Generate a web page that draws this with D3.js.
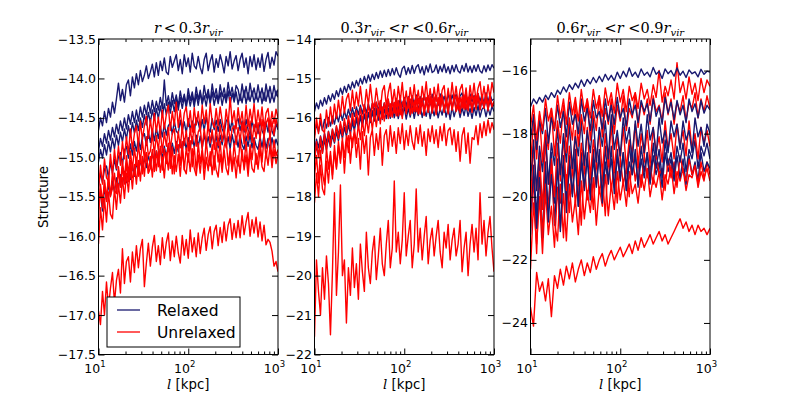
<!DOCTYPE html>
<html>
<head>
<meta charset="utf-8">
<script src="https://cdn.jsdelivr.net/npm/d3@7"></script>
<style>
  body { margin: 0; background: #fff; }
  text { font-family: "DejaVu Sans", sans-serif; fill: #000; }
  .math { font-family: "DejaVu Serif", "Liberation Serif", serif; }
</style>
</head>
<body>
<div id="chart"></div>
<script>
// separation l [kpc]: fine grid for the first two panels
const lFine = [10.00, 10.52, 11.08, 11.66, 12.27, 12.92, 13.59, 14.31, 15.06, 15.85,
  16.68, 17.56, 18.48, 19.45, 20.47, 21.54, 22.68, 23.87, 25.12, 26.44,
  27.83, 29.29, 30.83, 32.45, 34.15, 35.94, 37.83, 39.81, 41.90, 44.10,
  46.42, 48.85, 51.42, 54.12, 56.96, 59.95, 63.10, 66.41, 69.90, 73.56,
  77.43, 81.49, 85.77, 90.27, 95.01, 100.0, 105.2, 110.8, 116.6, 122.7,
  129.2, 135.9, 143.1, 150.6, 158.5, 166.8, 175.6, 184.8, 194.5, 204.7,
  215.4, 226.8, 238.7, 251.2, 264.4, 278.3, 292.9, 308.3, 324.5, 341.5,
  359.4, 378.3, 398.1, 419.0, 441.0, 464.2, 488.5, 514.2, 541.2, 569.6,
  599.5, 631.0, 664.1, 699.0, 735.6, 774.3, 814.9, 857.7, 902.7, 950.1, 1000];
// coarser grid for the third panel
const lKpc = [10.0, 10.8, 11.7, 12.6, 13.6, 14.7, 15.8, 17.1, 18.5, 20.0,
  21.5, 23.3, 25.1, 27.1, 29.3, 31.6, 34.1, 36.8, 39.8, 42.9,
  46.4, 50.1, 54.1, 58.4, 63.1, 68.1, 73.6, 79.4, 85.8, 92.6,
  100, 108, 117, 126, 136, 147, 158, 171, 185, 200,
  215, 233, 251, 271, 293, 316, 341, 368, 398, 429,
  464, 501, 541, 584, 631, 681, 736, 794, 858, 926, 1000];

// panel 1: r < 0.3 r_vir
const p1Relaxed = [
  [-14.66,-14.50,-14.60,-14.42,-14.56,-14.38,-14.49,-14.30,-14.44,-14.26,
   -14.06,-14.28,-14.14,-14.30,-14.08,-14.02,-14.22,-13.98,-14.12,-13.94,
   -14.08,-13.90,-14.04,-13.96,-13.84,-14.00,-13.92,-13.82,-13.98,-13.80,
   -13.96,-13.78,-13.90,-13.74,-13.92,-13.95,-13.72,-13.86,-13.78,-13.70,
   -13.90,-13.76,-13.94,-13.70,-13.85,-13.74,-13.92,-13.68,-13.84,-13.88,
   -13.72,-13.86,-13.94,-13.76,-13.68,-13.90,-13.78,-13.70,-13.92,-13.75,
   -13.86,-13.70,-13.80,-13.93,-13.72,-13.84,-13.66,-13.88,-13.78,-13.71,
   -13.90,-13.76,-13.68,-13.86,-13.74,-13.94,-13.72,-13.85,-13.70,-13.89,
   -13.74,-13.86,-13.69,-13.91,-13.76,-13.67,-13.87,-13.73,-13.83,-13.66,-13.72],
  [-14.92,-14.76,-14.86,-14.70,-14.82,-14.66,-14.78,-14.62,-14.74,-14.58,
   -14.70,-14.54,-14.66,-14.50,-14.64,-14.46,-14.58,-14.42,-14.56,-14.40,
   -14.54,-14.36,-14.49,-14.34,-14.46,-14.30,-14.44,-14.28,-14.42,-14.29,
   -14.40,-14.24,-14.38,-14.02,-14.34,-14.22,-14.36,-14.18,-14.32,-14.21,
   -14.35,-14.16,-14.30,-14.20,-14.34,-14.13,-14.28,-14.17,-14.32,-14.11,
   -14.27,-14.15,-14.31,-14.09,-14.25,-14.14,-14.30,-14.07,-14.24,-14.13,
   -14.29,-14.08,-14.23,-14.12,-14.27,-14.05,-14.22,-14.11,-14.26,-14.09,
   -14.14,-14.28,-14.07,-14.24,-14.10,-14.27,-14.06,-14.23,-14.12,-14.26,
   -14.08,-14.24,-14.12,-14.28,-14.07,-14.23,-14.10,-14.25,-14.09,-14.22,-14.14],
  [-15.06,-14.90,-15.01,-14.84,-14.97,-14.80,-14.93,-14.76,-14.89,-14.72,
   -14.85,-14.68,-14.80,-14.64,-14.77,-14.60,-14.73,-14.56,-14.69,-14.53,
   -14.66,-14.50,-14.62,-14.46,-14.59,-14.43,-14.56,-14.40,-14.53,-14.38,
   -14.51,-14.35,-14.48,-14.32,-14.46,-14.30,-14.44,-14.28,-14.42,-14.26,
   -14.40,-14.24,-14.38,-14.23,-14.37,-14.21,-14.35,-14.22,-14.36,-14.20,
   -14.34,-14.18,-14.33,-14.22,-14.35,-14.19,-14.32,-14.17,-14.34,-14.21,
   -14.32,-14.18,-14.34,-14.20,-14.31,-14.16,-14.33,-14.19,-14.30,-14.17,
   -14.33,-14.20,-14.31,-14.15,-14.32,-14.18,-14.29,-14.16,-14.31,-14.19,
   -14.30,-14.17,-14.32,-14.18,-14.29,-14.15,-14.31,-14.19,-14.30,-14.16,-14.24],
  [-15.37,-15.20,-15.32,-15.15,-15.11,-15.26,-15.06,-15.20,-15.02,-15.16,
   -14.99,-14.94,-15.09,-14.91,-14.86,-15.01,-14.83,-14.97,-14.80,-14.92,
   -14.76,-14.90,-14.74,-14.70,-14.85,-14.68,-14.81,-14.65,-14.79,-14.63,
   -14.76,-14.61,-14.74,-14.58,-14.72,-14.60,-14.56,-14.71,-14.54,-14.67,
   -14.70,-14.53,-14.66,-14.55,-14.69,-14.51,-14.65,-14.54,-14.68,-14.50,
   -14.56,-14.67,-14.52,-14.66,-14.49,-14.63,-14.68,-14.51,-14.65,-14.53,
   -14.67,-14.52,-14.64,-14.70,-14.54,-14.50,-14.66,-14.53,-14.69,-14.55,
   -14.51,-14.66,-14.54,-14.68,-14.52,-14.65,-14.71,-14.53,-14.67,-14.56,
   -14.70,-14.54,-14.66,-14.72,-14.55,-14.68,-14.53,-14.67,-14.73,-14.57,-14.65],
  [-15.59,-15.44,-15.68,-15.38,-15.54,-15.34,-15.49,-15.30,-15.44,-15.26,
   -15.39,-15.22,-15.35,-15.18,-15.32,-15.14,-15.28,-15.10,-15.24,-15.06,
   -15.19,-15.03,-15.16,-15.00,-15.13,-14.97,-15.10,-14.94,-15.07,-14.92,
   -15.04,-14.89,-15.01,-14.86,-14.99,-14.84,-14.97,-14.82,-14.95,-14.80,
   -14.93,-14.78,-14.91,-14.76,-14.90,-14.75,-14.88,-14.74,-14.87,-14.72,
   -14.86,-14.73,-14.88,-14.71,-14.85,-14.74,-14.87,-14.70,-14.84,-14.73,
   -14.88,-14.72,-14.84,-14.69,-14.86,-14.74,-14.89,-14.71,-14.85,-14.73,
   -14.87,-14.72,-14.84,-14.90,-14.73,-14.86,-14.71,-14.88,-14.75,-14.85,
   -14.90,-14.74,-14.87,-14.72,-14.89,-14.76,-14.91,-14.75,-14.88,-14.77,-14.85]
];
const p1Unrelaxed = [
  [-15.42,-15.10,-15.34,-15.02,-15.26,-15.30,-14.96,-15.22,-14.90,-15.14,
   -14.86,-15.10,-14.80,-15.02,-14.74,-14.96,-14.64,-14.90,-14.70,-14.60,
   -14.86,-14.54,-14.78,-14.60,-14.48,-14.76,-14.52,-14.72,-14.44,-14.68,
   -14.49,-14.70,-14.40,-14.64,-14.46,-14.34,-14.66,-14.42,-14.60,-14.30,
   -14.62,-14.40,-14.66,-14.44,-14.36,-14.61,-14.41,-14.68,-14.37,-14.59,
   -14.42,-14.64,-14.34,-14.57,-14.40,-14.66,-14.32,-14.55,-14.62,-14.38,
   -14.60,-14.36,-14.54,-14.67,-14.39,-14.59,-14.24,-14.56,-14.41,-14.64,
   -14.37,-14.58,-14.42,-14.66,-14.34,-14.61,-14.39,-14.56,-14.32,-14.62,
   -14.40,-14.59,-14.36,-14.64,-14.44,-14.38,-14.61,-14.42,-14.57,-14.39,-14.50],
  [-15.74,-15.40,-15.64,-15.32,-15.56,-15.24,-15.50,-15.19,-15.42,-15.46,
   -15.12,-15.36,-15.04,-15.28,-14.98,-15.22,-14.92,-15.16,-14.88,-15.10,
   -14.84,-15.06,-14.79,-15.02,-14.74,-14.98,-14.92,-14.70,-14.96,-14.72,
   -14.91,-14.66,-14.94,-14.68,-14.86,-14.62,-14.90,-14.70,-14.64,-14.92,
   -14.67,-14.88,-14.60,-14.85,-14.66,-14.92,-14.63,-14.83,-14.58,-14.86,
   -14.68,-14.62,-14.89,-14.64,-14.84,-14.56,-14.82,-14.65,-14.90,-14.61,
   -14.85,-14.59,-14.80,-14.63,-14.88,-14.58,-14.81,-14.64,-14.60,-14.84,
   -14.62,-14.80,-14.56,-14.83,-14.60,-14.78,-14.54,-14.81,-14.58,-14.76,
   -14.56,-14.77,-14.52,-14.74,-14.57,-14.50,-14.76,-14.54,-14.72,-14.51,-14.62],
  [-16.10,-15.64,-15.92,-15.52,-15.82,-15.44,-15.72,-15.78,-15.39,-15.66,
   -15.34,-15.58,-15.26,-15.52,-15.20,-15.44,-15.14,-15.40,-15.09,-15.34,
   -15.04,-15.30,-14.99,-15.24,-14.94,-15.20,-15.14,-14.90,-15.18,-14.92,
   -15.12,-14.86,-15.16,-14.89,-15.08,-14.82,-15.14,-14.87,-15.21,-14.91,
   -14.84,-15.10,-14.80,-15.16,-14.88,-15.06,-14.79,-15.12,-14.86,-15.18,
   -14.82,-15.08,-14.89,-15.14,-14.78,-15.04,-15.11,-14.84,-15.16,-14.81,
   -15.06,-14.80,-15.12,-14.86,-14.76,-15.10,-14.89,-15.15,-14.82,-15.04,
   -15.11,-14.78,-15.02,-15.08,-14.80,-15.14,-14.84,-15.03,-14.77,-15.09,
   -14.98,-14.79,-15.06,-14.74,-15.01,-14.82,-14.72,-15.03,-14.78,-14.98,-14.90],
  [-15.66,-15.34,-15.58,-15.29,-15.53,-15.24,-15.48,-15.40,-15.20,-15.44,
   -15.16,-15.38,-15.12,-15.34,-15.08,-15.31,-15.04,-15.26,-15.22,-15.00,
   -15.24,-14.98,-15.21,-15.02,-14.94,-15.20,-14.99,-15.25,-14.96,-15.17,
   -14.92,-15.19,-15.00,-15.26,-14.94,-15.16,-14.90,-15.21,-14.98,-15.18,
   -14.96,-15.24,-14.91,-15.15,-15.21,-14.95,-15.18,-14.89,-15.14,-15.23,
   -14.97,-15.20,-14.92,-15.28,-15.00,-15.17,-14.93,-15.22,-14.98,-15.16,
   -15.25,-14.96,-15.19,-14.91,-15.14,-15.22,-14.94,-15.18,-15.00,-15.26,
   -14.98,-15.20,-14.90,-15.16,-14.97,-15.24,-14.93,-15.14,-15.19,-14.95,
   -15.15,-14.89,-15.12,-15.18,-14.92,-15.10,-14.86,-15.13,-14.90,-15.08,-14.96],
  [-16.95,-17.12,-16.70,-17.00,-16.58,-16.90,-16.66,-16.46,-16.84,-16.56,
   -16.42,-16.72,-16.16,-16.60,-16.32,-16.26,-16.58,-16.20,-16.46,-16.12,
   -16.40,-16.16,-16.04,-16.64,-16.34,-16.09,-16.38,-16.14,-15.99,-16.32,
   -16.12,-16.36,-16.02,-16.28,-16.08,-15.96,-16.31,-16.06,-16.26,-16.00,
   -16.21,-16.34,-15.99,-16.24,-16.04,-16.28,-15.92,-16.20,-16.02,-16.26,
   -15.96,-16.22,-16.02,-15.90,-16.18,-15.98,-15.88,-16.16,-15.94,-15.86,
   -16.12,-15.89,-16.08,-15.82,-16.06,-15.86,-15.78,-16.04,-15.84,-16.02,
   -15.80,-16.02,-15.74,-15.98,-15.82,-15.70,-16.00,-15.79,-15.96,-15.76,
   -16.01,-15.82,-16.06,-15.86,-16.11,-16.04,-16.08,-16.19,-16.38,-16.32,-16.45]
];

// panel 2: 0.3 r_vir < r < 0.6 r_vir
const p2Relaxed = [
  [-15.84,-15.62,-15.77,-15.55,-15.70,-15.49,-15.65,-15.43,-15.58,-15.39,
   -15.53,-15.31,-15.46,-15.25,-15.40,-15.20,-15.35,-15.15,-15.29,-15.09,
   -15.24,-15.05,-15.19,-15.00,-15.14,-14.95,-15.11,-14.91,-15.07,-14.89,
   -15.03,-14.85,-15.00,-14.81,-14.97,-14.79,-14.95,-14.77,-14.93,-14.75,
   -14.91,-14.73,-14.89,-14.97,-14.75,-14.69,-14.90,-14.73,-14.88,-14.67,
   -14.87,-14.71,-14.65,-14.86,-14.70,-14.91,-14.68,-14.84,-14.63,-14.85,
   -14.81,-14.66,-14.87,-14.69,-14.83,-14.64,-14.85,-14.70,-14.88,-14.67,
   -14.83,-14.65,-14.81,-14.86,-14.67,-14.82,-14.62,-14.84,-14.69,-14.85,
   -14.67,-14.82,-14.65,-14.81,-14.86,-14.68,-14.83,-14.66,-14.80,-14.65,-14.74],
  [-16.44,-16.16,-16.36,-16.09,-16.32,-16.04,-16.26,-15.99,-16.21,-15.96,
   -16.16,-15.90,-16.10,-15.86,-16.06,-15.82,-16.02,-15.78,-15.98,-15.74,
   -15.96,-15.72,-15.92,-15.68,-15.90,-15.66,-15.88,-15.64,-15.86,-15.63,
   -15.84,-15.60,-15.82,-15.58,-15.86,-15.62,-15.80,-15.56,-15.85,-15.60,
   -15.78,-15.54,-15.82,-15.59,-15.88,-15.56,-15.76,-15.52,-15.80,-15.58,
   -15.84,-15.54,-15.78,-15.60,-15.52,-15.81,-15.57,-15.76,-15.50,-15.79,
   -15.58,-15.83,-15.54,-15.76,-15.51,-15.80,-15.60,-15.85,-15.55,-15.74,
   -15.52,-15.78,-15.57,-15.82,-15.54,-15.75,-15.49,-15.77,-15.58,-15.80,
   -15.54,-15.73,-15.50,-15.79,-15.56,-15.75,-15.52,-15.78,-15.57,-15.74,-15.66],
  [-16.84,-16.54,-16.76,-16.46,-16.70,-16.39,-16.64,-16.34,-16.56,-16.30,
   -16.50,-16.22,-16.44,-16.16,-16.38,-16.10,-16.32,-16.06,-16.28,-16.02,
   -16.24,-15.98,-16.20,-15.94,-16.16,-15.90,-16.14,-15.88,-16.12,-15.86,
   -16.08,-15.84,-16.06,-15.80,-16.04,-15.78,-16.02,-15.76,-16.01,-15.74,
   -16.00,-15.73,-16.02,-15.78,-15.96,-15.72,-16.03,-15.76,-15.98,-15.70,
   -16.01,-15.74,-15.94,-15.69,-15.99,-15.77,-15.96,-15.71,-16.02,-15.75,
   -15.95,-15.70,-16.00,-15.76,-15.93,-15.68,-15.98,-15.74,-16.04,-15.72,
   -15.97,-15.77,-15.71,-15.99,-15.74,-15.94,-15.68,-15.96,-15.76,-16.01,
   -15.73,-15.94,-15.69,-15.98,-15.78,-15.72,-15.97,-15.74,-15.93,-15.70,-15.84],
  [-17.02,-16.72,-16.94,-16.64,-16.88,-16.56,-16.80,-16.50,-16.74,-16.44,
   -16.64,-16.36,-16.58,-16.30,-16.52,-16.24,-16.46,-16.18,-16.40,-16.12,
   -16.32,-16.04,-16.26,-15.98,-16.20,-15.92,-16.14,-15.86,-16.08,-15.82,
   -16.02,-15.76,-15.96,-15.70,-15.91,-15.66,-15.86,-15.62,-15.82,-15.58,
   -15.78,-15.54,-15.74,-15.51,-15.72,-15.48,-15.70,-15.46,-15.68,-15.44,
   -15.66,-15.42,-15.64,-15.46,-15.69,-15.41,-15.62,-15.44,-15.67,-15.40,
   -15.64,-15.43,-15.68,-15.39,-15.61,-15.45,-15.66,-15.38,-15.63,-15.42,
   -15.60,-15.40,-15.65,-15.44,-15.37,-15.62,-15.42,-15.67,-15.39,-15.59,
   -15.43,-15.63,-15.38,-15.58,-15.41,-15.64,-15.36,-15.60,-15.40,-15.56,-15.52]
];
const p2Unrelaxed = [
  [-16.55,-16.00,-16.40,-15.90,-16.30,-16.38,-15.80,-16.22,-15.72,-16.15,
   -15.65,-16.02,-15.55,-15.95,-15.45,-15.88,-15.52,-15.38,-15.82,-15.30,
   -15.76,-15.35,-15.70,-15.20,-15.65,-15.78,-15.28,-15.68,-15.15,-15.60,
   -15.72,-15.25,-15.62,-15.80,-15.32,-15.18,-15.70,-15.35,-15.12,-15.65,
   -15.28,-15.72,-15.20,-15.58,-15.10,-15.68,-15.32,-15.75,-15.23,-15.60,
   -15.16,-15.64,-15.30,-15.72,-15.20,-15.55,-15.08,-15.62,-15.26,-15.70,
   -15.22,-15.58,-15.14,-15.66,-15.30,-15.18,-15.68,-15.25,-15.60,-15.10,
   -15.56,-15.20,-15.65,-15.28,-15.15,-15.62,-15.24,-15.70,-15.18,-15.54,
   -15.12,-15.58,-15.25,-15.08,-15.55,-15.20,-15.62,-15.16,-15.50,-15.10,-15.36],
  [-17.15,-16.60,-17.00,-16.48,-16.90,-16.40,-16.82,-16.35,-16.72,-16.28,
   -16.60,-16.20,-16.52,-16.10,-16.45,-16.02,-16.38,-15.95,-16.30,-15.88,
   -16.20,-15.82,-16.15,-15.75,-16.10,-15.70,-16.05,-15.66,-16.00,-15.62,
   -15.98,-15.60,-15.94,-15.56,-16.02,-15.62,-15.90,-15.52,-15.96,-15.58,
   -15.88,-15.50,-15.95,-15.60,-16.02,-15.54,-15.86,-15.48,-15.92,-15.56,
   -15.84,-15.46,-15.90,-15.58,-15.50,-15.94,-15.55,-15.85,-15.45,-15.88,
   -15.56,-15.92,-15.48,-15.82,-15.42,-15.86,-15.54,-15.90,-15.47,-15.80,
   -15.44,-15.84,-15.52,-15.88,-15.46,-15.78,-15.40,-15.82,-15.50,-15.86,
   -15.45,-15.78,-15.38,-15.80,-15.48,-15.74,-15.40,-15.82,-15.46,-15.72,-15.58],
  [-17.50,-16.95,-17.65,-16.82,-17.40,-17.70,-16.75,-17.30,-16.85,-17.55,
   -16.70,-17.25,-16.60,-17.05,-16.50,-17.40,-16.65,-16.45,-17.15,-16.55,
   -16.40,-17.00,-16.52,-17.30,-16.35,-16.90,-16.45,-17.45,-16.50,-16.30,
   -16.95,-16.40,-16.80,-16.25,-17.20,-16.45,-16.30,-16.85,-16.20,-16.72,
   -16.35,-16.90,-16.25,-16.65,-16.15,-16.80,-16.32,-16.70,-16.20,-16.60,
   -16.80,-16.25,-16.65,-16.18,-16.72,-16.35,-16.95,-16.28,-16.60,-16.20,
   -16.65,-16.30,-16.75,-16.22,-16.58,-16.15,-16.70,-16.32,-16.25,-16.68,
   -16.30,-16.85,-16.35,-17.10,-16.45,-16.25,-16.90,-16.38,-17.15,-16.50,
   -16.55,-16.20,-16.68,-16.15,-16.50,-16.10,-16.45,-16.05,-16.38,-16.12,-16.30],
  [-18.15,-17.40,-18.00,-17.20,-17.80,-17.95,-17.10,-17.65,-16.95,-17.45,
   -16.85,-17.30,-16.70,-17.15,-16.60,-17.00,-16.45,-16.88,-16.35,-16.75,
   -16.28,-16.65,-16.15,-16.55,-16.05,-16.45,-15.98,-16.38,-15.90,-16.30,
   -15.85,-16.22,-15.78,-16.15,-15.72,-16.08,-15.68,-16.02,-15.64,-15.98,
   -15.60,-15.95,-15.56,-15.92,-15.62,-15.54,-15.90,-15.58,-15.52,-15.88,
   -15.56,-15.84,-15.50,-15.90,-15.55,-15.82,-15.48,-15.86,-15.53,-15.80,
   -15.47,-15.84,-15.52,-15.78,-15.45,-15.82,-15.50,-15.76,-15.43,-15.80,
   -15.52,-15.46,-15.80,-15.48,-15.75,-15.42,-15.78,-15.50,-15.45,-15.76,
   -15.48,-15.74,-15.40,-15.72,-15.46,-15.76,-15.42,-15.70,-15.44,-15.68,-15.62],
  [-21.55,-19.60,-20.40,-21.00,-19.80,-20.60,-19.50,-20.20,-21.50,-19.90,
   -17.90,-20.50,-19.40,-17.70,-20.00,-19.60,-21.20,-19.80,-20.50,-19.30,
   -20.30,-19.70,-20.60,-19.20,-19.90,-20.40,-18.90,-19.80,-20.20,-19.40,
   -19.00,-20.10,-19.50,-18.80,-19.70,-20.00,-19.20,-18.60,-19.80,-19.30,
   -17.60,-19.40,-18.90,-19.70,-19.10,-17.90,-19.50,-19.00,-18.60,-19.80,
   -19.20,-17.80,-19.40,-18.80,-19.60,-19.00,-18.50,-19.70,-19.10,-18.80,
   -19.50,-19.00,-18.60,-19.40,-19.80,-18.90,-19.30,-18.70,-19.60,-19.10,
   -18.80,-19.50,-19.20,-18.60,-19.90,-19.30,-18.90,-20.00,-19.20,-18.70,
   -19.40,-18.80,-19.60,-17.90,-19.20,-18.60,-19.50,-18.90,-18.50,-19.30,-19.90]
];

// panel 3: 0.6 r_vir < r < 0.9 r_vir
const p3Relaxed = [
  [-17.15,-16.90,-17.05,-16.85,-17.00,-16.78,-16.92,-16.70,-16.85,-16.62,
   -16.75,-16.52,-16.68,-16.45,-16.60,-16.40,-16.55,-16.30,-16.50,-16.28,
   -16.42,-16.22,-16.38,-16.18,-16.35,-16.12,-16.30,-16.15,-16.32,-16.05,
   -16.25,-16.02,-16.20,-15.92,-16.18,-16.05,-16.22,-15.95,-16.15,-16.05,
   -16.20,-15.90,-16.12,-16.02,-16.25,-15.95,-16.10,-16.00,-16.18,-15.92,
   -16.15,-16.02,-16.22,-15.98,-16.10,-16.04,-16.20,-15.96,-16.12,-16.02,-16.05],
  [-18.20,-17.40,-18.50,-17.60,-18.00,-17.20,-18.30,-17.50,-17.90,-17.10,
   -17.80,-17.30,-18.10,-17.00,-17.70,-17.40,-18.00,-16.90,-17.60,-17.20,
   -17.90,-16.95,-17.50,-17.30,-17.85,-16.90,-17.60,-17.10,-17.70,-16.85,
   -17.50,-17.20,-17.75,-16.90,-17.40,-17.10,-17.65,-16.95,-17.30,-17.05,
   -17.60,-16.90,-17.45,-17.15,-17.70,-16.85,-17.35,-17.00,-17.55,-16.95,
   -17.40,-17.10,-17.65,-16.90,-17.30,-17.05,-17.50,-16.95,-17.35,-17.10,-17.25],
  [-19.50,-18.20,-19.80,-18.40,-19.20,-17.90,-19.60,-18.30,-19.00,-17.80,
   -19.30,-18.00,-18.90,-17.70,-19.10,-18.10,-18.70,-17.60,-19.00,-17.90,
   -18.60,-17.50,-18.90,-17.80,-18.40,-17.60,-18.80,-17.40,-18.50,-17.90,
   -18.70,-17.50,-18.30,-17.80,-18.90,-17.60,-18.40,-17.70,-18.60,-17.40,
   -18.20,-17.80,-18.70,-17.50,-18.30,-17.90,-18.60,-17.60,-18.10,-17.70,
   -18.50,-17.60,-18.20,-17.90,-18.60,-17.50,-18.10,-17.80,-18.40,-17.70,-18.00],
  [-20.50,-19.20,-21.00,-19.40,-20.30,-18.90,-20.80,-19.30,-20.20,-18.80,
   -21.10,-19.00,-20.10,-18.70,-19.90,-18.90,-20.30,-18.60,-19.70,-18.80,
   -19.90,-18.50,-19.60,-18.70,-20.00,-18.40,-19.50,-18.80,-19.70,-18.50,
   -19.40,-18.60,-19.80,-18.30,-19.30,-18.70,-19.60,-18.40,-19.20,-18.60,
   -19.50,-18.30,-19.10,-18.50,-19.40,-18.20,-19.00,-18.60,-19.30,-18.40,
   -18.90,-18.30,-19.20,-18.50,-18.80,-18.20,-19.10,-18.40,-18.70,-18.30,-18.80],
  [-21.20,-19.00,-20.60,-18.80,-21.30,-19.20,-20.40,-18.60,-20.90,-19.10,
   -20.20,-18.70,-20.50,-19.00,-20.00,-18.50,-20.30,-18.90,-19.80,-18.60,
   -20.10,-18.80,-19.70,-18.50,-20.20,-18.90,-19.60,-18.40,-19.90,-18.70,
   -19.50,-18.60,-19.80,-18.90,-19.30,-18.50,-19.70,-18.80,-19.40,-18.60,
   -19.60,-18.70,-19.30,-18.90,-19.70,-18.60,-19.20,-18.80,-19.50,-18.70,
   -19.40,-18.80,-19.60,-18.70,-19.30,-18.90,-19.50,-18.60,-19.20,-18.90,-19.10]
];
const p3Unrelaxed = [
  [-17.80,-17.10,-18.20,-17.30,-17.90,-16.90,-17.60,-17.20,-17.85,-16.80,
   -17.50,-16.90,-17.70,-16.70,-17.40,-16.85,-17.60,-16.60,-17.30,-16.90,
   -17.50,-16.60,-17.20,-16.80,-17.45,-16.55,-17.10,-16.70,-17.35,-16.40,
   -17.00,-16.60,-17.30,-16.50,-16.95,-16.70,-17.20,-16.40,-16.90,-16.60,
   -17.10,-16.45,-16.85,-16.00,-17.00,-16.50,-16.80,-16.30,-16.90,-15.75,
   -16.70,-16.35,-16.90,-16.20,-16.75,-16.40,-16.95,-16.25,-16.70,-16.30,-16.50],
  [-19.00,-17.60,-18.80,-17.40,-18.90,-17.90,-18.50,-17.20,-18.70,-17.60,
   -18.30,-17.10,-18.60,-17.50,-18.20,-17.00,-18.40,-17.40,-18.00,-16.90,
   -18.20,-17.30,-17.90,-16.80,-18.10,-17.20,-17.70,-16.90,-18.00,-17.10,
   -17.60,-16.80,-17.90,-17.20,-17.50,-16.70,-17.80,-17.00,-17.40,-16.90,
   -17.70,-16.80,-17.30,-17.10,-17.60,-16.70,-17.40,-16.90,-17.70,-17.00,
   -17.30,-16.80,-17.60,-17.00,-17.20,-16.70,-17.50,-16.90,-17.30,-16.80,-17.20],
  [-20.20,-18.40,-19.80,-18.60,-20.40,-18.20,-19.60,-18.80,-20.00,-18.30,
   -19.50,-18.10,-19.80,-18.40,-19.20,-17.90,-19.60,-18.30,-19.10,-17.80,
   -19.40,-18.20,-18.90,-17.90,-19.30,-18.00,-19.00,-17.70,-19.20,-18.10,
   -18.80,-17.80,-19.10,-18.20,-18.60,-17.70,-19.00,-18.00,-18.70,-17.90,
   -19.00,-17.80,-18.60,-18.10,-18.90,-17.60,-18.50,-18.00,-18.80,-17.70,
   -18.40,-17.90,-18.70,-17.60,-18.50,-18.00,-18.80,-17.80,-18.30,-17.90,-18.40],
  [-21.00,-19.40,-21.80,-19.20,-21.30,-19.60,-20.40,-19.00,-20.80,-21.40,
   -19.60,-21.30,-19.30,-20.50,-19.00,-20.20,-19.40,-20.90,-18.90,-20.10,
   -19.20,-20.40,-18.80,-19.90,-19.30,-20.60,-18.70,-19.80,-19.00,-20.20,
   -18.80,-19.60,-19.10,-20.00,-18.60,-19.50,-18.90,-19.70,-18.70,-19.40,
   -19.00,-19.60,-18.60,-19.30,-19.10,-19.80,-18.80,-19.40,-18.90,-19.70,
   -18.70,-19.20,-19.50,-18.80,-19.30,-19.00,-19.60,-18.90,-19.40,-19.10,-19.50],
  [-22.30,-20.20,-21.50,-20.00,-21.80,-19.80,-21.20,-20.30,-21.60,-19.70,
   -21.00,-19.90,-21.40,-19.60,-20.80,-20.10,-21.20,-19.50,-20.70,-19.80,
   -20.50,-19.40,-20.90,-19.70,-20.30,-19.30,-20.60,-19.60,-20.40,-19.20,
   -20.10,-19.50,-20.30,-19.20,-19.90,-19.60,-20.20,-19.30,-19.80,-19.10,
   -20.00,-19.40,-19.70,-19.20,-20.10,-19.30,-19.60,-19.00,-19.90,-19.20,
   -19.50,-19.10,-19.80,-19.30,-19.40,-19.00,-19.70,-19.20,-19.50,-18.90,-19.30],
  [-23.50,-24.10,-22.40,-23.00,-22.70,-23.30,-22.60,-23.80,-22.50,-22.90,
   -22.30,-22.80,-22.20,-22.60,-22.10,-22.70,-22.30,-22.00,-22.50,-22.10,
   -22.40,-21.90,-22.30,-22.00,-21.80,-22.20,-21.90,-21.70,-22.00,-21.80,
   -21.60,-21.90,-21.70,-21.50,-21.80,-21.40,-21.70,-21.30,-21.60,-21.40,
   -21.20,-21.50,-21.30,-21.10,-21.40,-21.20,-21.50,-21.30,-21.10,-20.90,
   -20.70,-21.00,-20.80,-21.10,-20.90,-21.20,-20.90,-21.10,-21.00,-21.20,-21.00]
];

const p1YTicks = [-13.5, -14.0, -14.5, -15.0, -15.5, -16.0, -16.5, -17.0, -17.5];
const p2YTicks = [-14, -15, -16, -17, -18, -19, -20, -21, -22];
const p3YTicks = [-16, -18, -20, -22, -24];
const xMajorTicks = [10, 100, 1000];
const legendLabels = ["Relaxed", "Unrelaxed"];

const width = 789, height = 395;
const plotTop = 39, plotBottom = 354.5;
const blue = "#191970", red = "#ff0000";

const svg = d3.select("#chart")
  .append("svg")
  .attr("width", width)
  .attr("height", height);

const panels = [
  { x0: 98.5, x1: 278, yDomain: [-17.5, -13.5], yTicks: p1YTicks, fmt: d3.format(".1f"),
    l: lFine, relaxed: p1Relaxed, unrelaxed: p1Unrelaxed,
    title: [["r", true], ["\u2009<\u20090.3", false], ["r", true], ["vir", true, "sub"]] },
  { x0: 314.5, x1: 494, yDomain: [-22, -14], yTicks: p2YTicks, fmt: d3.format("d"),
    l: lFine, relaxed: p2Relaxed, unrelaxed: p2Unrelaxed,
    title: [["0.3", false], ["r", true], ["vir", true, "sub"], [" <", false], ["r", true], [" <0.6", false], ["r", true], ["vir", true, "sub"]] },
  { x0: 530.5, x1: 710, yDomain: [-25, -15], yTicks: p3YTicks, fmt: d3.format("d"),
    l: lKpc, relaxed: p3Relaxed, unrelaxed: p3Unrelaxed, mixed: true,
    title: [["0.6", false], ["r", true], ["vir", true, "sub"], [" <", false], ["r", true], [" <0.9", false], ["r", true], ["vir", true, "sub"]] }
];

panels.forEach((p, k) => {
  const x = d3.scaleLog().domain([10, 1000]).range([p.x0, p.x1]);
  const y = d3.scaleLinear().domain(p.yDomain).range([plotBottom, plotTop]);
  const g = svg.append("g");

  // Clip for the curves
  svg.append("clipPath").attr("id", "clip" + k)
    .append("rect").attr("x", p.x0).attr("y", plotTop)
    .attr("width", p.x1 - p.x0).attr("height", plotBottom - plotTop);

  const line = d3.line().x((d, i) => x(p.l[i])).y(d => y(d));

  let series = [];
  if (p.mixed) {
    const n = Math.max(p.relaxed.length, p.unrelaxed.length);
    for (let i = n - 1; i >= 0; i--) {
      if (p.unrelaxed[i]) series.push([p.unrelaxed[i], red]);
      if (p.relaxed[i]) series.push([p.relaxed[i], blue]);
    }
  } else {
    series = p.relaxed.map(s => [s, blue]).concat(p.unrelaxed.map(s => [s, red]));
  }

  g.append("g").attr("clip-path", `url(#clip${k})`)
    .selectAll("path")
    .data(series)
    .enter()
    .append("path")
    .attr("d", d => line(d[0]))
    .attr("fill", "none")
    .attr("stroke", d => d[1])
    .attr("stroke-width", 1.4)
    .attr("stroke-linejoin", "round");

  // Axes (inward ticks on all four sides)
  const minorX = x.ticks().filter(v => !xMajorTicks.includes(v));
  g.append("g").attr("transform", `translate(${p.x0},0)`)
    .call(d3.axisLeft(y).tickValues(p.yTicks).tickFormat(p.fmt).tickSize(-6).tickPadding(2.5));
  g.append("g").attr("transform", `translate(${p.x1},0)`)
    .call(d3.axisRight(y).tickValues(p.yTicks).tickFormat("").tickSize(-6));
  g.append("g").attr("transform", `translate(0,${plotBottom})`)
    .call(d3.axisBottom(x).tickValues(minorX).tickFormat("").tickSize(-3));
  g.append("g").attr("transform", `translate(0,${plotTop})`)
    .call(d3.axisTop(x).tickValues(minorX).tickFormat("").tickSize(-3));
  g.append("g").attr("transform", `translate(0,${plotBottom})`)
    .call(d3.axisBottom(x).tickValues(xMajorTicks).tickFormat("").tickSize(-6));
  g.append("g").attr("transform", `translate(0,${plotTop})`)
    .call(d3.axisTop(x).tickValues(xMajorTicks).tickFormat("").tickSize(-6));

  g.selectAll(".domain").remove();
  g.selectAll(".tick line").attr("stroke", "#000").attr("stroke-width", 1);
  g.selectAll(".tick text").attr("font-size", 12.5).attr("font-family", "DejaVu Sans").attr("fill", "#000");

  // x tick labels as powers of ten
  xMajorTicks.forEach(v => {
    const t = g.append("text").attr("x", x(v) - 3.5).attr("y", plotBottom + 18)
      .attr("text-anchor", "middle").attr("font-size", 12.5);
    t.append("tspan").text("10");
    t.append("tspan").attr("font-size", 8.5).attr("dy", -6).text(Math.round(Math.log10(v)));
  });

  // frame
  g.append("rect").attr("x", p.x0).attr("y", plotTop)
    .attr("width", p.x1 - p.x0).attr("height", plotBottom - plotTop)
    .attr("fill", "none").attr("stroke", "#000").attr("stroke-width", 1);

  // x label
  const xl = g.append("text").attr("x", (p.x0 + p.x1) / 2).attr("y", 389)
    .attr("text-anchor", "middle").attr("font-size", 13.3);
  xl.append("tspan").attr("class", "math").attr("font-style", "italic").text("l");
  xl.append("tspan").text(" [kpc]");

  // title
  const tt = g.append("text").attr("class", "math").attr("x", (p.x0 + p.x1) / 2).attr("y", 33)
    .attr("text-anchor", "middle").attr("font-size", 14.5);
  let shift = 0;
  p.title.forEach(([s, it, pos]) => {
    const ts = tt.append("tspan").text(s);
    if (it) ts.attr("font-style", "italic");
    if (pos === "sub") { ts.attr("font-size", 10).attr("dy", 3); shift = 3; }
    else if (shift) { ts.attr("dy", -shift); shift = 0; }
  });
});

// y label
svg.append("text")
  .attr("transform", "translate(48,197) rotate(-90)")
  .attr("text-anchor", "middle")
  .attr("font-size", 13.3)
  .text("Structure");

// legend
const legend = svg.append("g");
legend.append("rect").attr("x", 107).attr("y", 297).attr("width", 133).attr("height", 50)
  .attr("fill", "#fff").attr("stroke", "#000").attr("stroke-width", 1);
legendLabels.forEach((name, i) => {
  const yy = 310 + i * 22;
  legend.append("line").attr("x1", 117).attr("x2", 140).attr("y1", yy).attr("y2", yy)
    .attr("stroke", i === 0 ? blue : red).attr("stroke-width", 1.3);
  legend.append("text").attr("x", 157).attr("y", yy + 5.5)
    .attr("font-size", 15.5).text(name);
});
</script>
</body>
</html>
